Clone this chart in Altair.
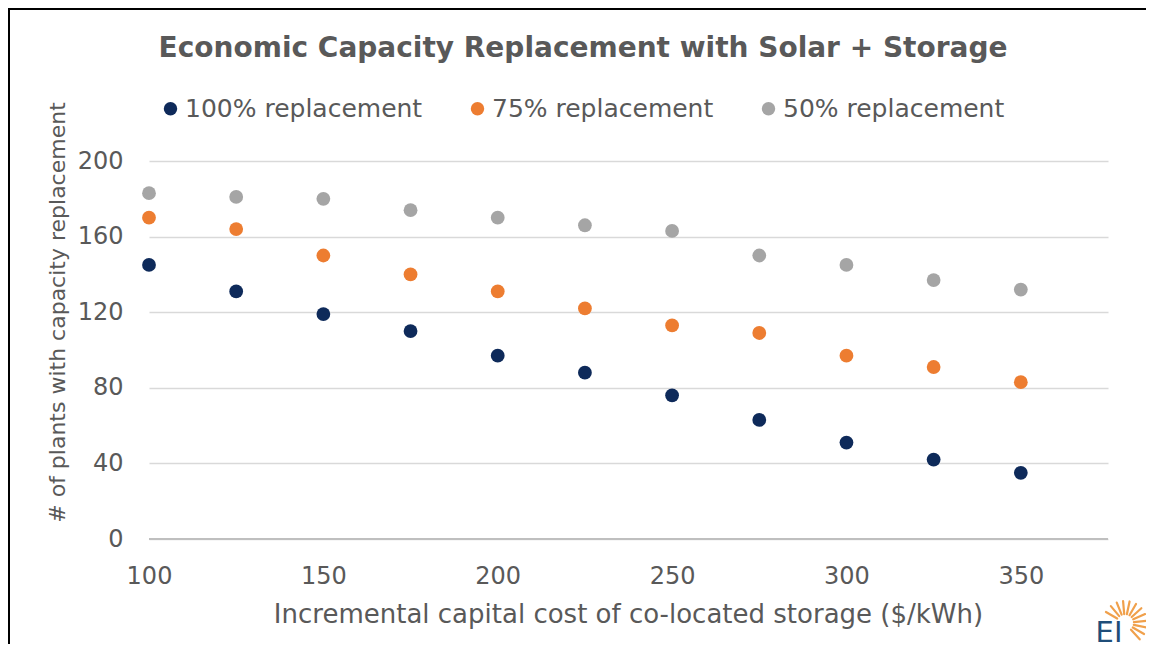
import math
import altair as alt
import pandas as pd

cost = [100, 125, 150, 175, 200, 225, 250, 275, 300, 325, 350]
rep100 = [145, 131, 119, 110, 97, 88, 76, 63, 51, 42, 35]
rep75 = [170, 164, 150, 140, 131, 122, 113, 109, 97, 91, 83]
rep50 = [183, 181, 180, 174, 170, 166, 163, 150, 145, 137, 132]
series = ["100% replacement", "75% replacement", "50% replacement"]
colors = ["#0E2A5A", "#ED7D31", "#A5A5A5"]
x_ticks = [100, 150, 200, 250, 300, 350]
y_ticks = [0, 40, 80, 120, 160, 200]

rows = []
for name, vals in zip(series, [rep100, rep75, rep50]):
    for c, v in zip(cost, vals):
        rows.append({"cost": c, "plants": v, "series": name})
df = pd.DataFrame(rows)

FONT = "DejaVu Sans"
GRAY = "#595959"
W, H = 959, 378

points = alt.Chart(df).mark_circle(size=190, opacity=1).encode(
    x=alt.X("cost:Q",
            scale=alt.Scale(domain=[100, 375], nice=False, zero=False),
            axis=alt.Axis(values=x_ticks, title="Incremental capital cost of co-located storage ($/kWh)",
                          labelFontSize=24, labelColor=GRAY, labelFont=FONT, labelPadding=25,
                          labelFlush=False,
                          titleFontSize=26, titleColor=GRAY, titleFont=FONT, titleFontWeight="normal",
                          titlePadding=13, titleX=479, ticks=False, domain=False, grid=False)),
    y=alt.Y("plants:Q",
            scale=alt.Scale(domain=[0, 200], nice=False),
            axis=alt.Axis(values=y_ticks, title="# of plants with capacity replacement",
                          labelFontSize=24, labelColor=GRAY, labelFont=FONT, labelPadding=26,
                          titleFontSize=22, titleColor=GRAY, titleFont=FONT, titleFontWeight="normal",
                          titlePadding=8, ticks=False, domain=False, gridColor="#D9D9D9",
                          gridWidth=1.5, titleY=151)),
    color=alt.Color("series:N", scale=alt.Scale(domain=series, range=colors),
                    legend=alt.Legend(title=None, orient="none", legendX=9, legendY=-65,
                                      direction="horizontal", symbolType="circle", symbolSize=180,
                                      labelFontSize=25, labelColor=GRAY, labelFont=FONT,
                                      labelLimit=400, columnPadding=42, symbolOpacity=1,
                                      labelOffset=2)),
)

zero = alt.Chart(pd.DataFrame({"y": [0]})).mark_rule(color="#BFBFBF", strokeWidth=2).encode(
    y="y:Q", x=alt.value(0), x2=alt.value(W))

title = alt.Chart(pd.DataFrame({"t": ["Economic Capacity Replacement with Solar + Storage"]})).mark_text(
    font=FONT, fontSize=28, fontWeight="bold", color=GRAY, align="center", baseline="middle"
).encode(text="t:N", x=alt.value(434), y=alt.value(-112))

# frame lines of the picture (decoration, fixed pixel positions)
frame_top = alt.Chart(pd.DataFrame({"a": [0]})).mark_rect(color="black").encode(
    x=alt.value(-141), x2=alt.value(997), y=alt.value(-153), y2=alt.value(-151))
frame_left = alt.Chart(pd.DataFrame({"a": [1]})).mark_rect(color="black").encode(
    x=alt.value(-141), x2=alt.value(-139), y=alt.value(-153), y2=alt.value(H + 105))

logo = alt.Chart(pd.DataFrame({"t": ["EI"]})).mark_text(
    font=FONT, fontSize=29, color="#1F4E79", align="center", baseline="middle"
).encode(text="t:N", x=alt.value(960), y=alt.value(472))

# decorative sunburst of the logo (fixed pixel positions, not data)
cx, cy = 976, 462
ray_angles = [-150, -130, -112, -95, -78, -60, -42, -24, -6, 12, 30, 48]
ray_layers = []
for i, a in enumerate(ray_angles):
    r = math.radians(a)
    ray_layers.append(
        alt.Chart(pd.DataFrame({"r": [i]})).mark_rule(
            color="#F0A04B", strokeWidth=2.2, strokeCap="round"
        ).encode(
            x=alt.value(cx + 9 * math.cos(r)), x2=alt.value(cx + 22 * math.cos(r)),
            y=alt.value(cy + 9 * math.sin(r)), y2=alt.value(cy + 22 * math.sin(r)),
        )
    )

chart = alt.layer(zero, points, title, frame_top, frame_left, *ray_layers, logo).properties(
    width=W, height=H
).configure(
    autosize=alt.AutoSizeParams(type="none"),
    padding={"left": 141, "top": 153, "right": 38, "bottom": 105},
).configure_view(stroke=None)

chart.save("out.html", embed_options={"renderer": "svg", "actions": False})
